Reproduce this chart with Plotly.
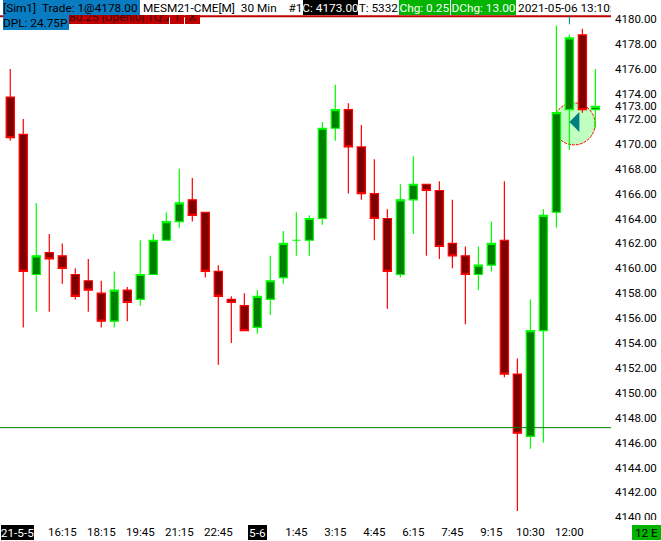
import plotly.graph_objects as go

# OHLC, oldest bar first
opens = [4173.75, 4170.75, 4159.5, 4161.25, 4161, 4159.5, 4159, 4158, 4155.75, 4158.25,
         4157.5, 4159.5, 4162.25, 4163.75, 4165.5, 4164.5, 4159.75, 4157.5, 4157, 4155.25,
         4157.5, 4159.25, 4162.25, 4162.25, 4164, 4171.25, 4172.75, 4169.75, 4166, 4164,
         4159.5, 4165.5, 4166.75, 4166.25, 4162, 4161, 4159.5, 4160.25, 4162.25, 4151.5,
         4146.5, 4155, 4164.5, 4172.75, 4178.75, 4172.75]
highs = [4176, 4172, 4165.25, 4162.75, 4162, 4160, 4160.75, 4159, 4159.75, 4158.5,
         4162.25, 4162.75, 4164.5, 4168, 4167.25, 4164.5, 4160.25, 4157.75, 4158, 4158.25,
         4161, 4163, 4164.5, 4164.25, 4171.75, 4174.75, 4173.25, 4171.5, 4168.75, 4164.75,
         4166.75, 4169, 4166.75, 4167, 4165.5, 4161.75, 4161.75, 4163.75, 4167, 4152.75,
         4157.5, 4164.75, 4179.5, 4178.75, 4179.25, 4176]
lows = [4170.25, 4155.25, 4156.5, 4156.5, 4158.75, 4157.5, 4156.5, 4155.25, 4155.25, 4155.75,
        4157, 4159.5, 4162.25, 4163.25, 4163.75, 4159.25, 4152.25, 4154, 4155, 4154.75,
        4156.25, 4158.75, 4161, 4161, 4163.5, 4170.25, 4166, 4165.5, 4162.25, 4156.75,
        4159.25, 4162.75, 4161, 4160.75, 4160, 4155.5, 4158.25, 4159.75, 4151.25, 4140.5,
        4145.5, 4146, 4163.25, 4169.5, 4172.5, 4171.25]
closes = [4170.5, 4159.75, 4161, 4160.75, 4160, 4157.75, 4158.25, 4155.75, 4158.25, 4157.25,
          4159.5, 4162.25, 4163.75, 4165.25, 4164.25, 4159.75, 4157.75, 4157.25, 4155, 4157.75,
          4159, 4162, 4162.25, 4164, 4171.25, 4172.75, 4169.75, 4166, 4164, 4159.75,
          4165.5, 4166.75, 4166.25, 4161.75, 4161, 4159.5, 4160.25, 4162, 4151.5, 4146.75,
          4155, 4164.25, 4172.5, 4178.5, 4172.75, 4173]

y_ticks = [4180, 4178, 4176, 4174, 4173, 4172, 4170, 4168, 4166, 4164, 4162, 4160, 4158,
           4156, 4154, 4152, 4150, 4148, 4146, 4144, 4142, 4140]
x_tick_bars = [4, 7, 10, 13, 16, 22, 25, 28, 31, 34, 37, 40, 43]
x_tick_labels = ["16:15", "18:15", "19:45", "21:15", "22:45", "1:45", "3:15", "4:45",
                 "6:15", "7:45", "9:15", "10:30", "12:00"]

stop_price = 4180.25
target_price = 4147.2
entry_price = 4171.75

NBSP = "\u00a0"
FONT = "Roboto"
FONT_SIZE = 11.5
WIDTH, HEIGHT = 661, 541
PLOT_W, PLOT_H = 611, 523
BLUE = "#0a7dc2"
GREEN = "#00b400"
DARK_RED = "#c00000"


def label_box(text, left, top, right, bottom, bg, color="black", align="left"):
    """Fixed-size text box, given in page pixels. Long text gets clipped like in the app."""
    return dict(text=text, xref="paper", yref="paper", xanchor="left", yanchor="top",
                x=left / PLOT_W, y=1 - top / PLOT_H, width=right - left, height=bottom - top,
                align=align, valign="middle", showarrow=False, bgcolor=bg, borderpad=0,
                borderwidth=0, font=dict(family=FONT, size=11.8, color=color))


fig = go.Figure()

fig.add_trace(go.Candlestick(
    x=list(range(len(opens))), open=opens, high=highs, low=lows, close=closes,
    increasing=dict(line=dict(color="#00ff00", width=1.2), fillcolor="#008000"),
    decreasing=dict(line=dict(color="#ff0000", width=1.2), fillcolor="#800000"),
    whiskerwidth=0, showlegend=False,
))

shapes = [
    # entry circle behind the bars
    dict(type="circle", layer="below", xref="x", yref="y", xsizemode="pixel", ysizemode="pixel",
         xanchor=43.36, yanchor=4171.6, x0=-21, x1=21, y0=-21, y1=21,
         fillcolor="#c0ffc0", line=dict(color="#ff0000", width=1, dash="3px,1px")),
    # stop and target lines
    dict(type="line", xref="paper", yref="y", x0=0, x1=1, y0=stop_price, y1=stop_price,
         line=dict(color=DARK_RED, width=2)),
    dict(type="line", xref="paper", yref="y", x0=0, x1=1, y0=target_price, y1=target_price,
         line=dict(color="#008000", width=1)),
    # small teal tick above the entry bar
    dict(type="line", xref="x", yref="y", x0=43, x1=43, y0=4179.6, y1=stop_price,
         line=dict(color="#008080", width=1)),
    # entry arrow
    dict(type="path", xref="x", yref="y", xsizemode="pixel", ysizemode="pixel",
         xanchor=43, yanchor=entry_price, path="M 0 0 L 10 10 L 10 -10 Z",
         fillcolor="#008080", line=dict(width=0)),
    # cuts off the lowest price label at the window edge
    dict(type="rect", xref="paper", yref="paper", x0=1, x1=WIDTH / PLOT_W,
         y0=1 - 541 / PLOT_H, y1=1 - 520 / PLOT_H, fillcolor="white", line=dict(width=0)),
]

annotations = [
    label_box("80.25 |Open|0| TQ:2", 69, 10, 169, 24, DARK_RED, "#400000"),
    label_box("T", 170, 10, 184, 24, DARK_RED, "#400000", "center"),
    label_box("X", 185, 10, 200, 24, DARK_RED, "#400000", "center"),
    label_box(f"[Sim1]{NBSP}{NBSP}Trade: 1@4178.00", 3, 0, 140, 15, BLUE),
    label_box("DPL: 24.75P", 3, 15, 69, 30, BLUE),
    label_box(f"{NBSP}MESM21-CME[M]{NBSP}{NBSP}30 Min{NBSP}{NBSP}{NBSP}{NBSP}#1", 140, 0, 303, 15, "white"),
    label_box("C: 4173.00", 303, 0, 358, 15, "black", "white", "center"),
    label_box("T: 5332", 358, 0, 399, 15, "white", "black", "center"),
    label_box("Chg: 0.25", 399, 0, 450, 15, GREEN, "white", "center"),
    label_box("DChg: 13.00", 451, 0, 516, 15, GREEN, "white", "center"),
    label_box("2021-05-06 13:10:12", 518, 0, 611, 15, "white"),
    label_box("21-5-5", 1, 525, 34, 540, "black", "white", "center"),
    label_box("5-6", 248, 525, 267, 540, "black", "white", "center"),
    label_box("12 E", 632, 525, 661, 540, GREEN, "black", "center"),
]

fig.update_layout(
    width=WIDTH, height=HEIGHT,
    margin=dict(l=0, r=WIDTH - PLOT_W, t=0, b=HEIGHT - PLOT_H, pad=0),
    paper_bgcolor="white", plot_bgcolor="white",
    font=dict(family=FONT, size=FONT_SIZE, color="black"),
    boxgap=0.1,
    shapes=shapes, annotations=annotations,
    xaxis=dict(range=[-0.79, 46.2], rangeslider=dict(visible=False), showgrid=False,
               zeroline=False, showline=False, ticks="", tickmode="array",
               tickvals=x_tick_bars, ticktext=x_tick_labels, tickangle=0),
    yaxis=dict(range=[4139.54, 4181.55], side="right", showgrid=False, zeroline=False,
               showline=False, ticks="", tickmode="array", tickvals=y_ticks,
               tickformat=".2f", ticklabelstandoff=3),
)

# the page's default body margin would push the whole chart 8px off
fig.write_html("out.html", config=dict(displayModeBar=False),
               post_script="document.body.style.margin='0';")
